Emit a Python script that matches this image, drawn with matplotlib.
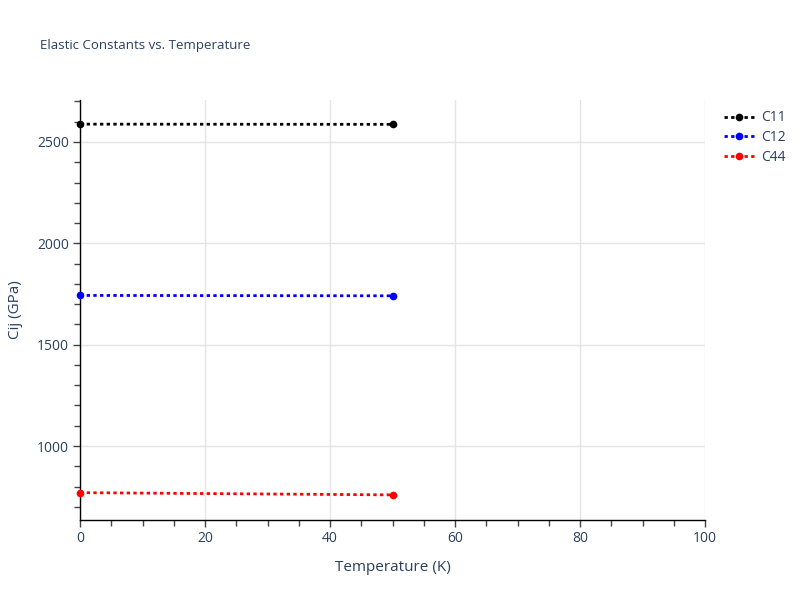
import matplotlib.pyplot as plt
from matplotlib.ticker import MultipleLocator

plt.rcParams['font.family'] = ['Open Sans', 'DejaVu Sans']

temperature = [0, 50]
c11 = [2588, 2587]
c12 = [1743, 1741]
c44 = [770, 759]
labels = ['C11', 'C12', 'C44']
colors = ['black', 'blue', 'red']

text_color = '#2a3f5f'

fig = plt.figure(figsize=(8, 6), dpi=100)
ax = fig.add_axes([0.1, 0.1333, 0.78125, 0.7])

for vals, lab, col in zip([c11, c12, c44], labels, colors):
    ax.plot(temperature, vals, linestyle=(0, (1.2, 1.2)), linewidth=2, color=col,
            marker='o', markersize=4.5, label=lab, clip_on=False, zorder=3)

ax.set_xlim(0, 100)
ax.set_ylim(635, 2707)
ax.xaxis.set_major_locator(MultipleLocator(20))
ax.xaxis.set_minor_locator(MultipleLocator(5))
ax.yaxis.set_major_locator(MultipleLocator(500))
ax.yaxis.set_minor_locator(MultipleLocator(100))

ax.grid(True, which='major', color='#e5e5e5', linewidth=1)
ax.set_axisbelow(True)
for side in ['top', 'right']:
    ax.spines[side].set_visible(False)
for side in ['left', 'bottom']:
    ax.spines[side].set_color('black')
    ax.spines[side].set_linewidth(1)

ax.tick_params(axis='both', which='major', direction='out', length=5, width=1,
               color='#444444', labelcolor=text_color, labelsize=10, pad=3)
ax.tick_params(axis='both', which='minor', direction='out', length=4, width=1, color='#444444')

ax.set_xlabel('Temperature (K)', fontsize=11, color=text_color, labelpad=10)
ax.set_ylabel('Cij (GPa)', fontsize=11, color=text_color, labelpad=10)
fig.text(0.05, 0.918, 'Elastic Constants vs. Temperature', fontsize=9.5, color=text_color)

leg = ax.legend(loc='upper left', bbox_to_anchor=(1.01, 1.005), frameon=False,
                fontsize=10, handlelength=2.2, handletextpad=0.5, labelspacing=0.35)
for t in leg.get_texts():
    t.set_color(text_color)

fig.savefig('out.png', dpi=100)
